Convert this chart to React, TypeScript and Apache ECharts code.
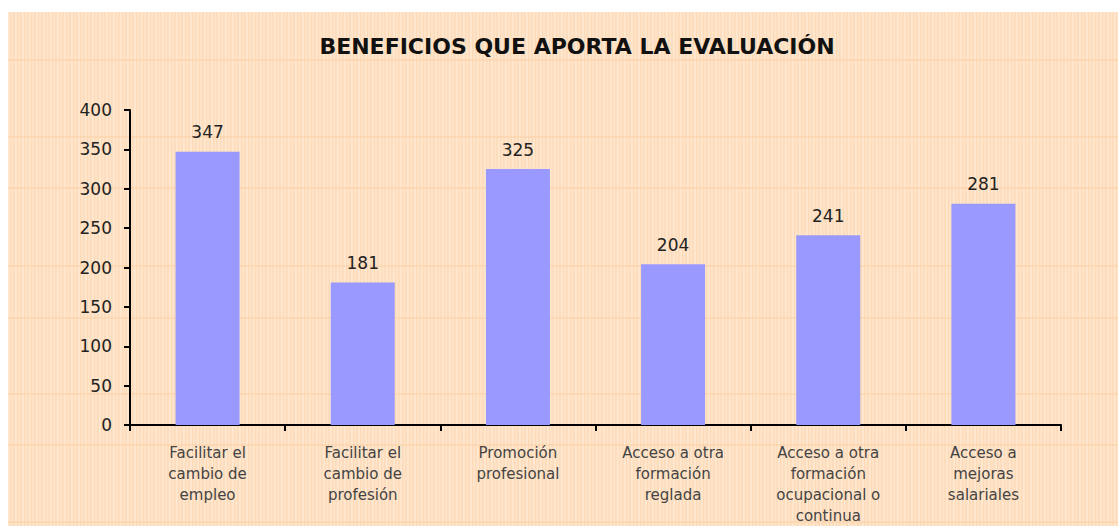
import React, { useEffect, useRef } from "react";
import * as echarts from "echarts";

const categories = [
  "Facilitar el\ncambio de\nempleo",
  "Facilitar el\ncambio de\nprofesión",
  "Promoción\nprofesional",
  "Acceso a otra\nformación\nreglada",
  "Acceso a otra\nformación\nocupacional o\ncontinua",
  "Acceso a\nmejoras\nsalariales",
];
const values = [347, 181, 325, 204, 241, 281];
const title = "BENEFICIOS QUE APORTA LA EVALUACIÓN";
const bgLineYs = [48, 125, 176, 254, 306, 382, 433, 510];

export default function App() {
  const ref = useRef<HTMLDivElement>(null);
  useEffect(() => {
    if (!ref.current) return;
    const chart = echarts.init(ref.current, null, { renderer: "svg" });
    const font = "'DejaVu Sans', sans-serif";
    chart.setOption({
      animation: false,
      backgroundColor: "transparent",
      title: {
        text: title,
        left: 564,
        top: 18,
        textAlign: "center",
        textStyle: { fontFamily: font, fontSize: 22, fontWeight: "bold", color: "#111" },
      },
      graphic: bgLineYs.map((y) => ({
        type: "line",
        silent: true,
        z: -10,
        shape: { x1: 0, y1: y, x2: 1110, y2: y },
        style: { stroke: "#FBCFA3", lineWidth: 1 },
      })),
      grid: { left: 122, right: 57, top: 98, bottom: 99, containLabel: false },
      xAxis: {
        type: "category",
        data: categories,
        axisLine: { lineStyle: { color: "#000", width: 2 } },
        axisTick: { show: true, length: 6, lineStyle: { color: "#000", width: 2 } },
        axisLabel: {
          interval: 0,
          margin: 17,
          fontFamily: font,
          fontSize: 15,
          lineHeight: 21,
          color: "#444",
        },
      },
      yAxis: {
        type: "value",
        min: 0,
        max: 400,
        interval: 50,
        axisLine: { show: true, lineStyle: { color: "#000", width: 2 } },
        axisTick: { show: true, length: 6, lineStyle: { color: "#000", width: 2 } },
        splitLine: { show: false },
        axisLabel: { margin: 18, fontFamily: font, fontSize: 17, color: "#222" },
      },
      series: [
        {
          type: "bar",
          data: values,
          barWidth: 64,
          itemStyle: { color: "#9999FF" },
          label: {
            show: true,
            position: "top",
            distance: 11,
            fontFamily: font,
            fontSize: 17,
            color: "#222",
          },
        },
      ],
    });
    return () => chart.dispose();
  }, []);
  return (
    <div
      ref={ref}
      style={{
        position: "absolute",
        left: 8,
        top: 12,
        width: 1110,
        height: 514,
        backgroundColor: "#FFE5CB",
        backgroundImage:
          "repeating-linear-gradient(90deg, #FFE7CF 0px, #FFE7CF 2px, #FDD9B6 2px, #FDD9B6 3px, #FFE3C8 3px, #FFE3C8 5px, #FCDDBD 5px, #FCDDBD 7px)",
      }}
    />
  );
}
